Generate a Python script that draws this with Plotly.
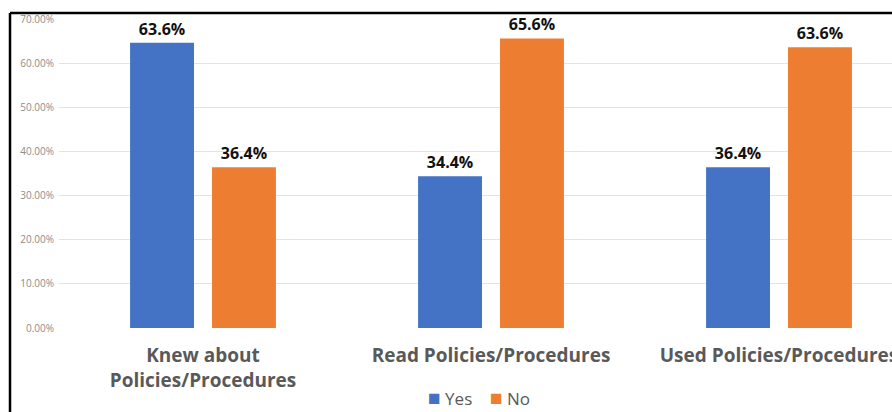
import plotly.graph_objects as go

categories = ["Knew about<br>Policies/Procedures", "Read Policies/Procedures", "Used Policies/Procedures"]
series_names = ["Yes", "No"]
series_colors = ["#4472C4", "#ED7D31"]
yes_values = [64.6, 34.4, 36.4]
no_values = [36.4, 65.6, 63.6]
yes_labels = ["63.6%", "34.4%", "36.4%"]
no_labels = ["36.4%", "65.6%", "63.6%"]
y_ticks = [0, 10, 20, 30, 40, 50, 60, 70]
y_tick_labels = [f"{v:.2f}%" for v in y_ticks]

W, H = 892, 412
ML, MR, MT, MB = 59, 0, 19, 84
PW, PH = W - ML - MR, H - MT - MB

fig = go.Figure()
for name, color, vals, labs in zip(series_names, series_colors,
                                   [yes_values, no_values], [yes_labels, no_labels]):
    fig.add_trace(go.Bar(
        name=name, x=categories, y=vals, text=labs,
        textposition="outside", cliponaxis=False,
        marker=dict(color=color, line=dict(width=0)),
        textfont=dict(family="Open Sans", size=16, color="#111111", weight="bold"),
        showlegend=False,
    ))

cat_px = 288
x_end = -0.5 + PW / cat_px

fig.update_layout(
    width=W, height=H,
    margin=dict(l=ML, r=MR, t=MT, b=MB, pad=0, autoexpand=False),
    paper_bgcolor="white", plot_bgcolor="white",
    barmode="group", bargap=0.431, bargroupgap=0.22,
    font=dict(family="Open Sans"),
    xaxis=dict(
        range=[-0.5, x_end], showgrid=False, zeroline=False, showline=False,
        ticks="", ticklabelstandoff=14, automargin=False,
        tickfont=dict(family="Open Sans", size=19, color="#595959", weight="bold"),
    ),
    yaxis=dict(
        range=[0, 70], tickvals=y_ticks, ticktext=y_tick_labels,
        showgrid=True, gridcolor="#E3E3E3", gridwidth=1, automargin=False,
        zeroline=False, showline=False, ticks="", ticklabelstandoff=4,
        tickfont=dict(family="Open Sans", size=10, color="#8C8C8C"),
    ),
)

# legend drawn as text
legend_text = "    ".join(
    f"<span style='color:{c};font-size:21px'>■</span> {n}"
    for n, c in zip(series_names, series_colors)
)
fig.add_annotation(
    xref="paper", yref="paper", x=(478.5 - ML) / PW, y=-(397 - (MT + PH)) / PH,
    xanchor="center", yanchor="middle", showarrow=False,
    text=legend_text, font=dict(family="Open Sans", size=17, color="#595959"),
)

# frame lines (top and left)
x_left = (10 - ML) / PW
y_top = 1 + (MT - 13) / PH
y_bottom = -(MB) / PH
fig.add_shape(type="line", xref="paper", yref="paper",
              x0=x_left, x1=1.02, y0=y_top, y1=y_top,
              line=dict(color="black", width=2.5))
fig.add_shape(type="line", xref="paper", yref="paper",
              x0=x_left, x1=x_left, y0=y_top, y1=y_bottom - 0.05,
              line=dict(color="black", width=2.5))

fig.write_html("out.html")
